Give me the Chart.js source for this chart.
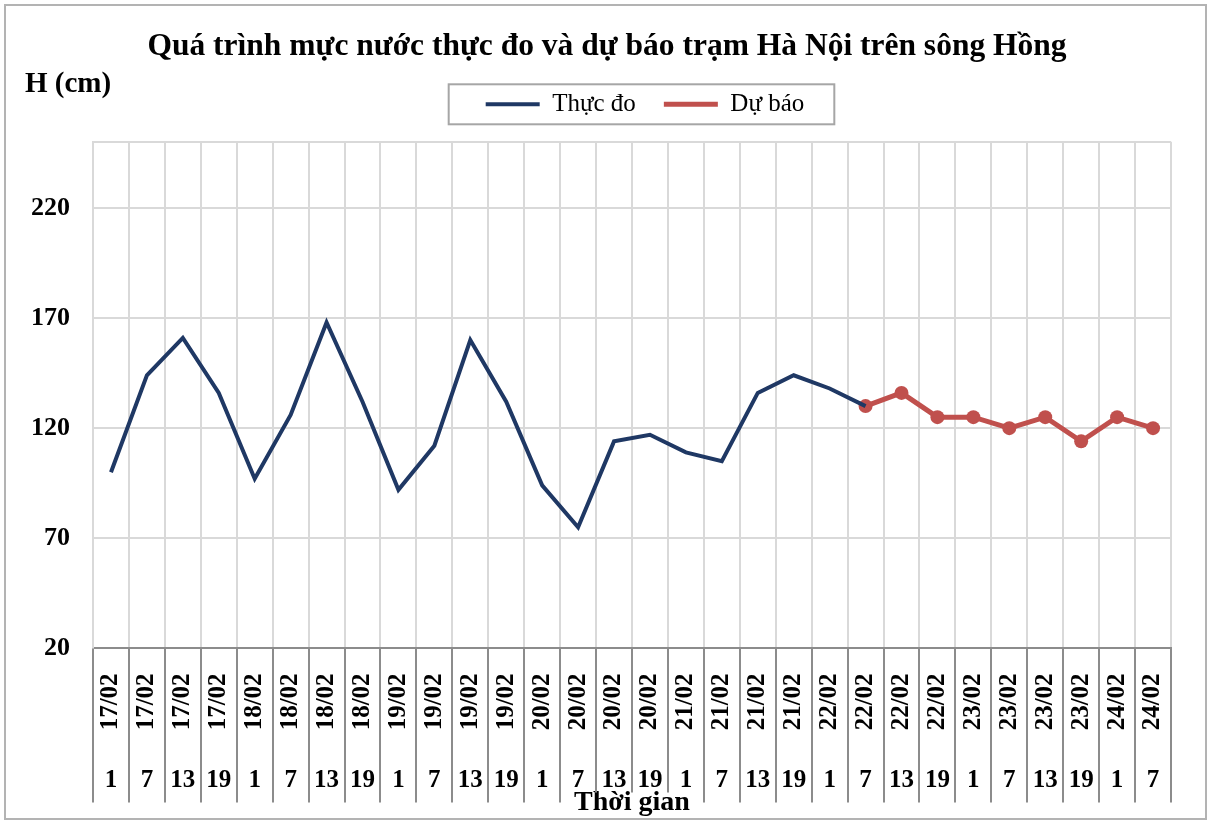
<!DOCTYPE html>
<html>
<head>
<meta charset="utf-8">
<title>Mực nước Hà Nội</title>
<script src="https://cdn.jsdelivr.net/npm/chart.js@4.4.1/dist/chart.umd.min.js"></script>
<style>
body { margin: 0; background: #fff; }
#wrap { position: relative; width: 1211px; height: 823px; }
#frame { position: absolute; left: 4px; top: 4px; width: 1199px; height: 812px; border: 2px solid #b3b3b3; pointer-events: none; }
</style>
</head>
<body>
<div id="wrap">
    <canvas id="myChart" width="1211" height="823"></canvas>
    <div id="frame"></div>
</div>
<script>
let dates = [
    '17/02', '17/02', '17/02', '17/02', '18/02', '18/02', '18/02', '18/02',
    '19/02', '19/02', '19/02', '19/02', '20/02', '20/02', '20/02', '20/02',
    '21/02', '21/02', '21/02', '21/02', '22/02', '22/02', '22/02', '22/02',
    '23/02', '23/02', '23/02', '23/02', '24/02', '24/02'
];
let hours = [
    '1', '7', '13', '19', '1', '7', '13', '19',
    '1', '7', '13', '19', '1', '7', '13', '19',
    '1', '7', '13', '19', '1', '7', '13', '19',
    '1', '7', '13', '19', '1', '7'
];
let measured = [
    100, 144, 161, 136, 97, 126, 168, 132,
    92, 112, 160, 132, 94, 75, 114, 117,
    109, 105, 136, 144, 138, 130, null, null,
    null, null, null, null, null, null
];
let forecast = [
    null, null, null, null, null, null, null, null,
    null, null, null, null, null, null, null, null,
    null, null, null, null, null, 130, 136, 125,
    125, 120, 125, 114, 125, 120
];
let yTicks = [20, 70, 120, 170, 220, 250];

let colors = {
    'navy': '#1f3864'
    , 'red': '#c0504d'
    , 'grid': '#d9d9d9'
    , 'axis': '#8c8c8c'
    , 'black': '#000'
}
let serif = "'Liberation Serif', 'Times New Roman', serif";
let axisTitleFont = 'bold 28px ' + serif;
let titleShiftX = 10;
let legendShiftX = 48;
let legendShiftY = 15;

const extras = {
    id: 'extras',
    afterLayout(chart) {
        let t = chart.titleBlock;
        t.left += titleShiftX;
        t.right += titleShiftX;
        let lg = chart.legend;
        lg.left += legendShiftX;
        lg.right += legendShiftX;
        lg.top -= legendShiftY;
        lg.bottom -= legendShiftY;
    },
    afterDraw(chart) {
        let ctx = chart.ctx;
        let x = chart.scales.x;
        let x2 = chart.scales.x2;
        let area = chart.chartArea;

        // separators under the plot, between the category columns,
        // stopping above the axis title where they would cross it
        ctx.save();
        ctx.font = axisTitleFont;
        let tw = ctx.measureText('Thời gian').width;
        let tc = (x2.left + x2.right) / 2;
        ctx.strokeStyle = colors['axis'];
        ctx.lineWidth = 2;
        let sepBottom = x2.top + 62;
        let sepShort = x2.top + 52;
        for (let i = 0; i <= dates.length; i++) {
            let px = Math.round(x.getPixelForValue(i - 0.5));
            let under = Math.abs(px - tc) < tw / 2 + 3;
            ctx.beginPath();
            ctx.moveTo(px, area.bottom);
            ctx.lineTo(px, under ? sepShort : sepBottom);
            ctx.stroke();
        }
        ctx.restore();

        // frame round the legend
        let hb = chart.legend.legendHitBoxes;
        if (hb && hb.length) {
            let first = hb[0];
            let last = hb[hb.length - 1];
            let cy = first.top + first.height / 2;
            ctx.save();
            ctx.strokeStyle = '#a6a6a6';
            ctx.lineWidth = 2;
            ctx.strokeRect(first.left - 37, cy - 20, last.left + last.width - first.left + 67, 40);
            ctx.restore();
        }

        // unit label
        ctx.save();
        ctx.fillStyle = colors['black'];
        ctx.font = 'bold 29px ' + serif;
        ctx.textAlign = 'left';
        ctx.textBaseline = 'middle';
        ctx.fillText('H (cm)', 25, 85);
        ctx.restore();
    }
};

let ctx = document.getElementById('myChart').getContext('2d');
let myChart = new Chart(ctx, {
    type: 'line',
    data: {
        labels: dates,
        datasets: [
            {
                label: 'Thực đo',
                data: measured,
                borderColor: colors['navy'],
                backgroundColor: colors['navy'],
                borderWidth: 4,
                pointRadius: 0,
                tension: 0,
            },
            {
                label: 'Dự báo',
                data: forecast,
                borderColor: colors['red'],
                backgroundColor: colors['red'],
                borderWidth: 5,
                pointRadius: 7,
                pointBorderWidth: 0,
                tension: 0,
            },
        ]
    },
    options: {
        responsive: false,
        animation: false,
        devicePixelRatio: 1,
        layout: {
            padding: {left: 23, right: 40, top: 0, bottom: 3}
        },
        plugins: {
            title: {
                display: true,
                text: 'Quá trình mực nước thực đo và dự báo trạm Hà Nội trên sông Hồng',
                color: colors['black'],
                font: {family: serif, size: 31.5, weight: 'bold'},
                padding: {top: 28, bottom: 13},
            },
            legend: {
                display: true,
                position: 'top',
                labels: {
                    color: colors['black'],
                    font: {family: serif, size: 25},
                    usePointStyle: true,
                    pointStyle: 'line',
                    pointStyleWidth: 54,
                    padding: 28,
                    generateLabels: (chart) => {
                        let items = Chart.defaults.plugins.legend.labels.generateLabels(chart);
                        return items.map((it) => {
                            let ds = chart.data.datasets[it.datasetIndex];
                            it.lineWidth = ds.borderWidth;
                            it.strokeStyle = ds.borderColor;
                            return it;
                        });
                    },
                },
            },
            tooltip: {enabled: false},
        },
        scales: {
            x: {
                type: 'category',
                position: 'bottom',
                weight: 0,
                offset: true,
                afterFit: (axis) => {
                    axis.height = 92;
                },
                grid: {
                    offset: true,
                    color: colors['grid'],
                    lineWidth: 2,
                    drawTicks: false,
                },
                border: {color: colors['axis'], width: 2},
                ticks: {
                    autoSkip: false,
                    minRotation: 90,
                    maxRotation: 90,
                    padding: 25,
                    color: colors['black'],
                    font: {family: serif, size: 25, weight: 'bold'},
                },
            },
            x2: {
                type: 'category',
                position: 'bottom',
                weight: 1,
                labels: hours,
                offset: true,
                grid: {display: false, drawTicks: false},
                border: {display: false},
                ticks: {
                    autoSkip: false,
                    maxRotation: 0,
                    padding: 25,
                    color: colors['black'],
                    font: {family: serif, size: 25, weight: 'bold'},
                },
                title: {
                    display: true,
                    text: 'Thời gian',
                    color: colors['black'],
                    font: {family: serif, size: 28, weight: 'bold'},
                    padding: {top: -34, bottom: 0},
                },
            },
            y: {
                min: 20,
                max: 250,
                afterBuildTicks: (axis) => {
                    axis.ticks = yTicks.map(v => ({value: v}));
                },
                afterFit: (axis) => {
                    axis.width = 70;
                },
                grid: {
                    color: colors['grid'],
                    lineWidth: 2,
                    drawTicks: false,
                },
                border: {color: colors['grid'], width: 2},
                ticks: {
                    padding: 23,
                    color: colors['black'],
                    font: {family: serif, size: 26, weight: 'bold'},
                    callback: (v) => v === 250 ? '' : v,
                },
            },
        },
    },
    plugins: [extras],
});
</script>
</body>
</html>
